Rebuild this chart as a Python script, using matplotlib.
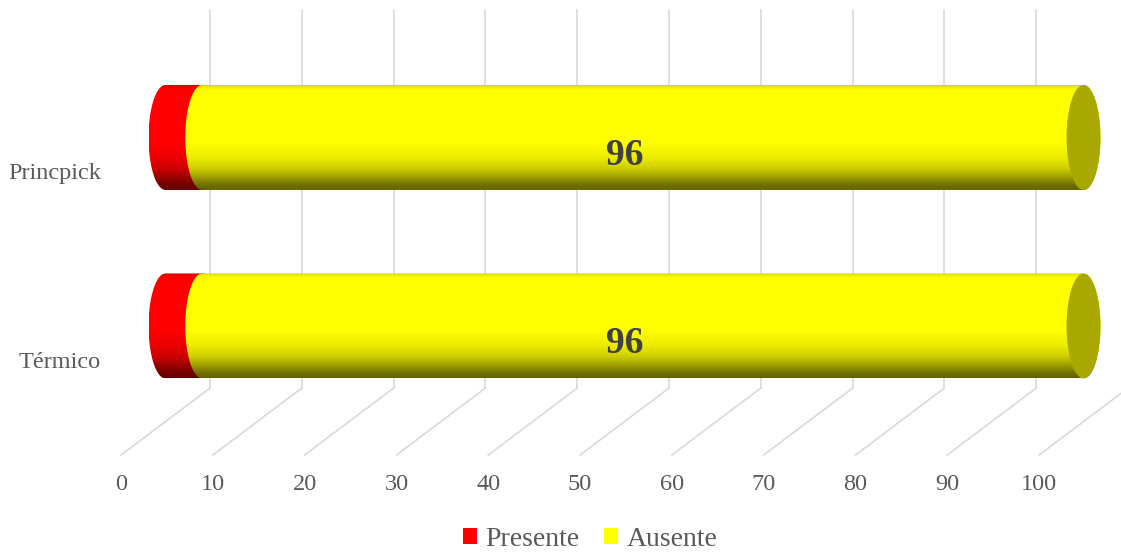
import numpy as np
import matplotlib
matplotlib.use("Agg")
import matplotlib.pyplot as plt
import matplotlib.transforms as mtransforms
from matplotlib.path import Path
from matplotlib.patches import PathPatch, Patch, Ellipse

# data
categorias = ["Térmico", "Princpick"]
presente = [4, 4]
ausente = [96, 96]
series = [("Presente", presente, (1.0, 0.0, 0.0)),
          ("Ausente", ausente, (1.0, 1.0, 0.0))]
ticks = list(range(0, 101, 10))

plt.rcParams["font.family"] = ["Liberation Serif", "DejaVu Serif"]

fig = plt.figure(figsize=(11.21, 5.52), dpi=100)
ax = fig.add_axes([0, 0, 1, 1])
ax.set_xlim(-18.03, 104.08)
ax.set_ylim(-1.199, 1.729)
ax.axis("off")

# depth offsets (pixels) for the back wall and the front edge
depth_x, depth_y = 44.5, 33.5
back = ax.transData + mtransforms.Affine2D().translate(depth_x, depth_y)
front = ax.transData + mtransforms.Affine2D().translate(-depth_x, -depth_y)
floor = -0.507
top = 1.499
grid_col = "#d9d9d9"

# back wall and floor grid
for v in ticks:
    ax.plot([v, v], [floor, top], color=grid_col, lw=1.2, transform=back,
            clip_on=False, zorder=1)
    p0 = front.transform((v, floor))
    p1 = back.transform((v, floor))
    ax.plot([p0[0], p1[0]], [p0[1], p1[1]], color=grid_col, lw=1.2,
            transform=None, clip_on=False, zorder=1)
    ax.text(v, floor, str(v), transform=front + mtransforms.Affine2D().translate(0, -29),
            ha="center", va="center", fontsize=17.5, color="#595959")

for i, c in enumerate(categorias):
    ax.text(0, i, c, transform=front + mtransforms.Affine2D().translate(-20, -3),
            ha="right", va="center", fontsize=17.5, color="#595959")

# cylinder shading
t_stops = [0, 0.05, 0.12, 0.2, 0.3, 0.45, 0.95, 1.0]
f_stops = [0.38, 0.45, 0.62, 0.8, 0.92, 1.0, 1.0, 0.82]
tt = np.linspace(0, 1, 200)
shade = np.interp(tt, t_stops, f_stops)

half_h = 0.2785
semi_a = 1.85
theta = np.linspace(np.pi / 2, 3 * np.pi / 2, 60)


def cylinder(x0, x1, yc, color, z):
    left = np.column_stack([x0 + semi_a * np.cos(theta), yc + half_h * np.sin(theta)])
    right = np.column_stack([x1 - semi_a * np.cos(theta), yc - half_h * np.sin(theta)])
    verts = np.vstack([left, right, left[:1]])
    codes = [Path.MOVETO] + [Path.LINETO] * (len(verts) - 2) + [Path.CLOSEPOLY]
    patch = PathPatch(Path(verts, codes), facecolor="none", edgecolor="none",
                      transform=ax.transData, zorder=z)
    ax.add_patch(patch)
    grad = np.array(color)[None, :] * shade[:, None]
    img = ax.imshow(grad[:, None, :], extent=[x0 - semi_a, x1 + semi_a, yc - half_h, yc + half_h],
                    origin="lower", aspect="auto", interpolation="bilinear", zorder=z)
    img.set_clip_path(patch)


for i in range(len(categorias)):
    start = 0
    for k, (name, vals, color) in enumerate(series):
        end = start + vals[i]
        cylinder(start, end, i, color, 3 + k)
        start = end
    cap_col = tuple(0.66 * c for c in series[-1][2])
    ax.add_patch(Ellipse((start, i), 2 * semi_a, 2 * half_h, facecolor=cap_col,
                         edgecolor="none", zorder=3 + len(series)))
    ax.text(start / 2, i, str(ausente[i]),
            transform=ax.transData + mtransforms.Affine2D().translate(0, -18),
            ha="center", va="center", fontsize=27, fontweight="bold",
            color="#404040", zorder=10)

ax.set_xlim(-18.03, 104.08)
ax.set_ylim(-1.199, 1.729)

handles = [Patch(facecolor=c, edgecolor="none", label=n) for n, _, c in series]
fig.legend(handles=handles, loc="center", bbox_to_anchor=(590 / 1121, 13 / 552),
           ncol=2, frameon=False, fontsize=20, handlelength=0.5, handleheight=0.5,
           handletextpad=0.3, columnspacing=0.9, labelcolor="#595959",
           borderpad=0.1)

fig.savefig("out.png", dpi=100)
